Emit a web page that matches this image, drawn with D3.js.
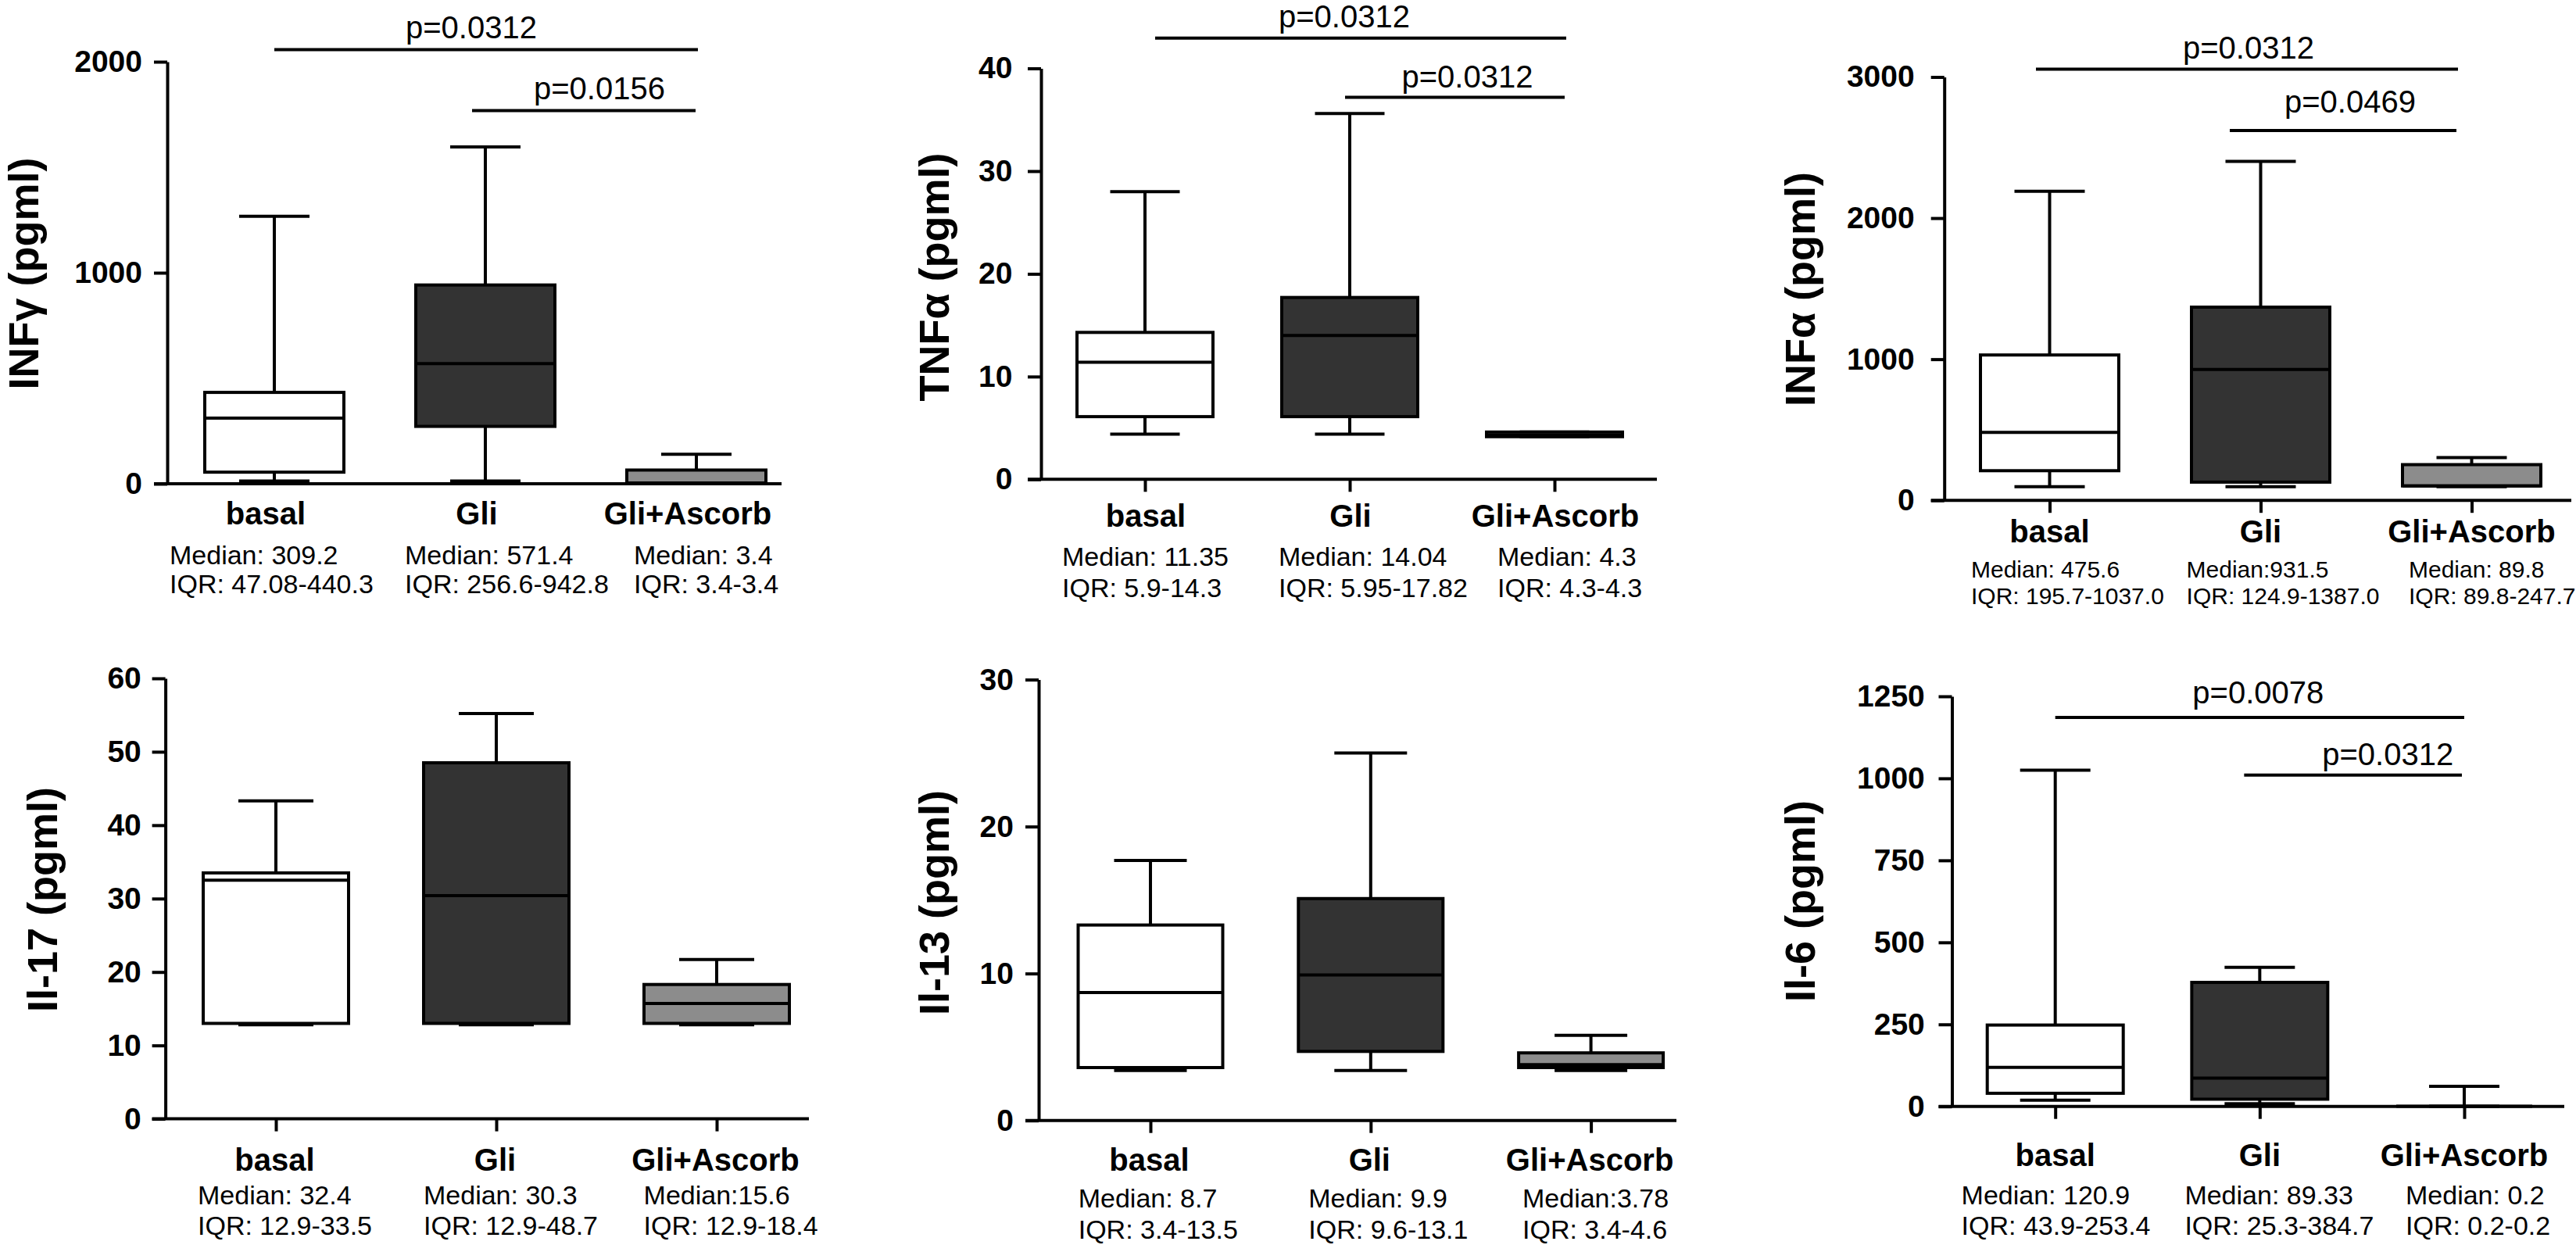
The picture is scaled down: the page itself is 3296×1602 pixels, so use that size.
<!DOCTYPE html>
<html>
<head>
<meta charset="utf-8">
<script src="https://d3js.org/d3.v7.min.js"></script>
<style>
  body { margin: 0; background: #fff; }
  text { font-family: "Liberation Sans", Arial, Helvetica, sans-serif; }
</style>
</head>
<body>
<div id="chart-area"></div>
<script>
//============================DATA============================
var groups = ["basal", "Gli", "Gli+Ascorb"];
var fills = ["#ffffff", "#333333", "#8c8c8c"];

var titles = ["INFγ (pgml)", "TNFα (pgml)", "INFα (pgml)", "Il-17 (pgml)", "Il-13 (pgml)", "Il-6 (pgml)"];

// y tick values
var ticksInfg = [0, 1000, 2000];
var ticksTnfa = [0, 10, 20, 30, 40];
var ticksInfa = [0, 1000, 2000, 3000];
var ticksIl17 = [0, 10, 20, 30, 40, 50, 60];
var ticksIl13 = [0, 10, 20, 30];
var ticksIl6  = [0, 250, 500, 750, 1000, 1250];

// box stats: [min, q1, median, q3, max]
var statsInfg = [[13, 55, 311, 433, 1268], [13, 272, 569, 942, 1596], [3.4, 3.4, 3.4, 65, 140]];
var statsTnfa = [[4.4, 6.1, 11.4, 14.3, 28.0], [4.4, 6.1, 14.0, 17.7, 35.6], [4.15, 4.15, 4.3, 4.6, 4.6]];
var statsInfa = [[96, 210, 482, 1030, 2190], [96, 129, 928, 1369, 2402], [96, 102, 102, 253, 303]];
var statsIl17 = [[12.8, 13.0, 32.5, 33.5, 43.3], [12.8, 13.0, 30.4, 48.5, 55.2], [12.8, 13.0, 15.7, 18.3, 21.7]];
var statsIl13 = [[3.4, 3.6, 8.7, 13.3, 17.7], [3.4, 4.7, 9.9, 15.1, 25.0], [3.4, 3.6, 3.8, 4.6, 5.8]];
var statsIl6  = [[19, 40, 119, 248, 1025], [8, 22, 86, 378, 424], [0.2, 0.2, 0.2, 0.2, 61]];

// summary text under each group
var notesInfg = [["Median: 309.2", "IQR: 47.08-440.3"], ["Median: 571.4", "IQR: 256.6-942.8"], ["Median: 3.4", "IQR: 3.4-3.4"]];
var notesTnfa = [["Median: 11.35", "IQR: 5.9-14.3"], ["Median: 14.04", "IQR: 5.95-17.82"], ["Median: 4.3", "IQR: 4.3-4.3"]];
var notesInfa = [["Median: 475.6", "IQR: 195.7-1037.0"], ["Median:931.5", "IQR: 124.9-1387.0"], ["Median: 89.8", "IQR: 89.8-247.7"]];
var notesIl17 = [["Median: 32.4", "IQR: 12.9-33.5"], ["Median: 30.3", "IQR: 12.9-48.7"], ["Median:15.6", "IQR: 12.9-18.4"]];
var notesIl13 = [["Median: 8.7", "IQR: 3.4-13.5"], ["Median: 9.9", "IQR: 9.6-13.1"], ["Median:3.78", "IQR: 3.4-4.6"]];
var notesIl6  = [["Median: 120.9", "IQR: 43.9-253.4"], ["Median: 89.33", "IQR: 25.3-384.7"], ["Median: 0.2", "IQR: 0.2-0.2"]];

// significance bars: [from, to, label]
var sigInfg = [["basal", "Gli+Ascorb", "p=0.0312"], ["Gli", "Gli+Ascorb", "p=0.0156"]];
var sigTnfa = [["basal", "Gli+Ascorb", "p=0.0312"], ["Gli", "Gli+Ascorb", "p=0.0312"]];
var sigInfa = [["basal", "Gli+Ascorb", "p=0.0312"], ["Gli", "Gli+Ascorb", "p=0.0469"]];
var sigIl6  = [["basal", "Gli+Ascorb", "p=0.0078"], ["Gli", "Gli+Ascorb", "p=0.0312"]];

//============================LAYOUT============================
var W = 3296, H = 1602;

var panels = [
  { title: titles[0], ticks: ticksInfg, stats: statsInfg, notes: notesInfg, sig: sigInfg,
    axisX: 214, y0: 619, yTop: 79, c0: 351, c2: 891, boxW: 178, capW: 90, xEnd: 1000, xTicks: false,
    tickRight: 182, titleX: 49, titleY: 350, catY: 671, catDx: -11,
    noteX: [217, 518, 811], noteY: [722, 758.5], noteSize: 34,
    sigLay: [{ dx1: 0, dx2: 2, y: 63.5, tdx: -19, ty: 49 }, { dx1: -17, dx2: -1, y: 141.5, tdx: 20, ty: 127 }] },
  { title: titles[1], ticks: ticksTnfa, stats: statsTnfa, notes: notesTnfa, sig: sigTnfa,
    axisX: 1332, y0: 613.3, yTop: 87.5, c0: 1465, c2: 1989, boxW: 174, capW: 89, xEnd: 2120, xTicks: true,
    tickRight: 1295.5, titleX: 1214, titleY: 354.5, catY: 674, catDx: 1,
    noteX: [1359, 1636, 1916], noteY: [723.7, 763.5], noteSize: 34,
    sigLay: [{ dx1: 13, dx2: 15, y: 48.7, tdx: -21, ty: 34.8 }, { dx1: -6, dx2: 13, y: 124.4, tdx: 16, ty: 112 }] },
  { title: titles[2], ticks: ticksInfa, stats: statsInfa, notes: notesInfa, sig: sigInfa,
    axisX: 2487.7, y0: 640.2, yTop: 98.5, c0: 2622.5, c2: 3162.5, boxW: 177, capW: 90, xEnd: 3290, xTicks: true,
    tickRight: 2449.7, titleX: 2322, titleY: 370, catY: 693.5, catDx: 0,
    noteX: [2522, 2797.6, 3082], noteY: [739, 772.5], noteSize: 30,
    sigLay: [{ dx1: -17.5, dx2: -17.5, y: 88.5, tdx: 2, ty: 74.6 }, { dx1: -39.5, dx2: -19.5, y: 167, tdx: 9, ty: 144 }] },
  { title: titles[3], ticks: ticksIl17, stats: statsIl17, notes: notesIl17, sig: [],
    axisX: 211.6, y0: 1431.6, yTop: 868, c0: 353, c2: 917, boxW: 186, capW: 96, xEnd: 1035, xTicks: true,
    tickRight: 180.8, titleX: 73, titleY: 1151, catY: 1498, catDx: -1.5,
    noteX: [253, 542, 823.6], noteY: [1541, 1580], noteSize: 34, sigLay: [] },
  { title: titles[4], ticks: ticksIl13, stats: statsIl13, notes: notesIl13, sig: [],
    axisX: 1329, y0: 1433.7, yTop: 869.6, c0: 1472, c2: 2035.6, boxW: 185, capW: 93, xEnd: 2145, xTicks: true,
    tickRight: 1297, titleX: 1214, titleY: 1155, catY: 1498, catDx: -1.5,
    noteX: [1379.7, 1674.3, 1948], noteY: [1545, 1584.6], noteSize: 34, sigLay: [] },
  { title: titles[5], ticks: ticksIl6, stats: statsIl6, notes: notesIl6, sig: sigIl6,
    axisX: 2497.5, y0: 1415.7, yTop: 891, c0: 2629.7, c2: 3153, boxW: 174, capW: 90, xEnd: 3281, xTicks: true,
    tickRight: 2462.8, titleX: 2322, titleY: 1153, catY: 1492, catDx: 0,
    noteX: [2509.6, 2795.4, 3078], noteY: [1540.7, 1580], noteSize: 34,
    sigLay: [{ dx1: 0, dx2: 0, y: 917.9, tdx: -2, ty: 899.5 }, { dx1: -20, dx2: -3, y: 991.8, tdx: 44.5, ty: 979 }] }
];

var SW = 4; // stroke width used everywhere

var svg = d3.select("#chart-area")
  .append("svg")
  .attr("width", W)
  .attr("height", H);

svg.append("rect").attr("width", W).attr("height", H).attr("fill", "#fff");

//============================DRAW============================
panels.forEach(function(p) {
  var g = svg.append("g");

  var y = d3.scaleLinear()
    .domain([0, d3.max(p.ticks)])
    .range([p.y0, p.yTop]);

  var x = d3.scalePoint()
    .domain(groups)
    .range([p.c0, p.c2]);

  // y axis (plain integers, no thousands separator)
  var yAxisCall = d3.axisLeft(y)
    .tickValues(p.ticks)
    .tickFormat(function(d) { return String(d); })
    .tickSize(17)
    .tickSizeOuter(0)
    .tickPadding(p.axisX - 17 - p.tickRight);
  var ya = g.append("g")
    .attr("transform", "translate(" + p.axisX + ",0)")
    .call(yAxisCall);
  ya.select(".domain").attr("stroke", "#000").attr("stroke-width", SW);
  ya.selectAll(".tick line").attr("stroke", "#000").attr("stroke-width", SW);
  ya.selectAll(".tick text")
    .attr("fill", "#000")
    .attr("font-family", "'Liberation Sans', Arial, Helvetica, sans-serif")
    .attr("font-size", 39)
    .attr("font-weight", "bold");

  // x axis line
  g.append("line")
    .attr("x1", p.axisX - 17).attr("x2", p.xEnd)
    .attr("y1", y(0)).attr("y2", y(0))
    .attr("stroke", "#000").attr("stroke-width", SW);

  if (p.xTicks) {
    var xa = g.append("g")
      .attr("transform", "translate(0," + y(0) + ")")
      .call(d3.axisBottom(x).tickSize(16).tickFormat(""));
    xa.select(".domain").remove();
    xa.selectAll(".tick line").attr("stroke", "#000").attr("stroke-width", SW);
  }

  // y title
  g.append("text")
    .attr("transform", "translate(" + p.titleX + "," + p.titleY + ") rotate(-90)")
    .attr("text-anchor", "middle")
    .attr("font-size", 54)
    .attr("font-weight", "bold")
    .text(p.title);

  // boxes
  var boxes = g.selectAll(".box")
    .data(p.stats)
    .enter().append("g")
    .attr("class", "box")
    .attr("transform", function(d, i) { return "translate(" + x(groups[i]) + ",0)"; });

  // whiskers
  boxes.append("line")
    .attr("x1", 0).attr("x2", 0)
    .attr("y1", function(d) { return y(d[4]); })
    .attr("y2", function(d) { return y(d[3]); })
    .attr("stroke", "#000").attr("stroke-width", SW);
  boxes.append("line")
    .attr("x1", 0).attr("x2", 0)
    .attr("y1", function(d) { return y(d[1]); })
    .attr("y2", function(d) { return y(d[0]); })
    .attr("stroke", "#000").attr("stroke-width", SW);
  // caps
  [0, 4].forEach(function(k) {
    boxes.append("line")
      .attr("x1", -p.capW / 2).attr("x2", p.capW / 2)
      .attr("y1", function(d) { return y(d[k]); })
      .attr("y2", function(d) { return y(d[k]); })
      .attr("stroke", "#000").attr("stroke-width", SW);
  });
  // box
  boxes.append("rect")
    .attr("x", -p.boxW / 2)
    .attr("width", p.boxW)
    .attr("y", function(d) { return y(d[3]); })
    .attr("height", function(d) { return Math.max(0, y(d[1]) - y(d[3])); })
    .attr("fill", function(d, i) { return fills[i]; })
    .attr("stroke", "#000").attr("stroke-width", SW);
  // median
  boxes.append("line")
    .attr("x1", -p.boxW / 2).attr("x2", p.boxW / 2)
    .attr("y1", function(d) { return y(d[2]); })
    .attr("y2", function(d) { return y(d[2]); })
    .attr("stroke", "#000").attr("stroke-width", SW);

  // category labels
  g.selectAll(".cat")
    .data(groups)
    .enter().append("text")
    .attr("class", "cat")
    .attr("x", function(d) { return x(d) + p.catDx; })
    .attr("y", p.catY)
    .attr("text-anchor", "middle")
    .attr("font-size", 40)
    .attr("font-weight", "bold")
    .text(function(d) { return d; });

  // median / IQR notes
  p.notes.forEach(function(n, i) {
    n.forEach(function(line, j) {
      g.append("text")
        .attr("x", p.noteX[i])
        .attr("y", p.noteY[j])
        .attr("font-size", p.noteSize)
        .text(line);
    });
  });

  // significance bars
  p.sig.forEach(function(s, i) {
    var lay = p.sigLay[i];
    var x1 = x(s[0]) + lay.dx1, x2 = x(s[1]) + lay.dx2;
    g.append("line")
      .attr("x1", x1).attr("x2", x2)
      .attr("y1", lay.y).attr("y2", lay.y)
      .attr("stroke", "#000").attr("stroke-width", SW);
    g.append("text")
      .attr("x", (x1 + x2) / 2 + lay.tdx)
      .attr("y", lay.ty)
      .attr("text-anchor", "middle")
      .attr("font-size", 40)
      .text(s[2]);
  });
});
</script>
</body>
</html>
